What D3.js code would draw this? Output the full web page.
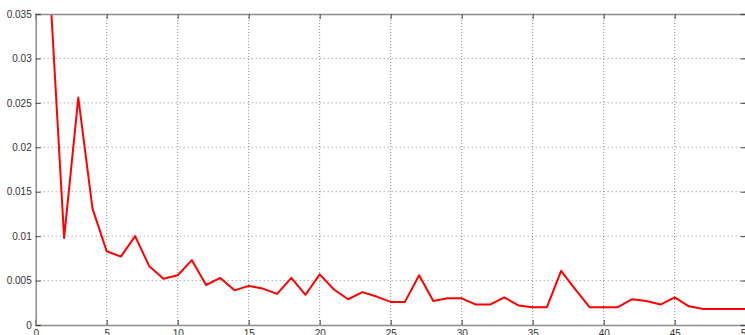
<!DOCTYPE html>
<html>
<head>
<meta charset="utf-8">
<script src="https://cdn.jsdelivr.net/npm/d3@7"></script>
<style>
  html, body { margin: 0; padding: 0; background: #fff; }
  svg { display: block; }
</style>
</head>
<body>
<svg id="chart" width="745" height="335"></svg>
<script>
// Data
const xValues = [1,2,3,4,5,6,7,8,9,10,11,12,13,14,15,16,17,18,19,20,21,22,23,24,25,26,27,28,29,30,31,32,33,34,35,36,37,38,39,40,41,42,43,44,45,46,47,48,49,50];
const yValues = [0.0380,0.0098,0.0256,0.0131,0.0083,0.0077,0.0100,0.0066,0.0052,0.0056,0.0073,0.0045,0.0053,0.0039,0.0044,0.0041,0.0035,0.0053,0.0034,0.0057,0.0040,0.0029,0.0037,0.0032,0.0026,0.0026,0.0056,0.0027,0.0030,0.0030,0.0023,0.0023,0.0031,0.0022,0.0020,0.0020,0.0061,0.0040,0.0020,0.0020,0.0020,0.0029,0.0027,0.0023,0.0031,0.0021,0.0018,0.0018,0.0018,0.0018];
const xTicks = [0,5,10,15,20,25,30,35,40,45,50];
const yTicks = [0,0.005,0.01,0.015,0.02,0.025,0.03,0.035];
const yTickLabels = ["0","0.005","0.01","0.015","0.02","0.025","0.03","0.035"];

const svg = d3.select("#chart");
const pL = 35.7, pR = 745.7, pT = 14, pB = 325;

const x = d3.scaleLinear().domain([0, 50]).range([pL, pR]);
const y = d3.scaleLinear().domain([0, 0.035]).range([pB, pT]);

svg.append("defs").append("clipPath").attr("id", "clip")
  .append("rect").attr("x", pL).attr("y", pT).attr("width", pR - pL).attr("height", pB - pT);

// Grid
const grid = svg.append("g");
grid.selectAll("line.gx").data(xTicks.slice(1, -1)).enter().append("line")
  .attr("x1", d => x(d)).attr("x2", d => x(d)).attr("y1", pT).attr("y2", pB)
  .attr("stroke", "#8a8a8a").attr("stroke-width", 1).attr("stroke-dasharray", "1,2");
grid.selectAll("line.gy").data(yTicks.slice(1, -1)).enter().append("line")
  .attr("x1", pL).attr("x2", pR).attr("y1", d => y(d)).attr("y2", d => y(d))
  .attr("stroke", "#8a8a8a").attr("stroke-width", 1).attr("stroke-dasharray", "1,3");

// Line
const line = d3.line().x((d, i) => x(xValues[i])).y(d => y(d));
svg.append("path").datum(yValues)
  .attr("clip-path", "url(#clip)")
  .attr("d", line)
  .attr("fill", "none").attr("stroke", "#f00").attr("stroke-width", 2).attr("stroke-linejoin", "round");

// Axes (MATLAB style, inward ticks)
const tickLen = 5;
const axisColor = "#8c8c8c";
const bottomAxis = d3.axisBottom(x).tickValues(xTicks).tickSize(-tickLen).tickPadding(8).tickFormat(d3.format("d"));
const topAxis = d3.axisTop(x).tickValues(xTicks).tickSize(-tickLen).tickFormat("");
const leftAxis = d3.axisLeft(y).tickValues(yTicks).tickSize(-tickLen).tickPadding(8).tickFormat((d, i) => yTickLabels[i]);
const rightAxis = d3.axisRight(y).tickValues(yTicks).tickSize(-tickLen).tickFormat("");

function style(g) {
  g.select(".domain").attr("stroke", axisColor).attr("stroke-width", 1.5);
  g.selectAll(".tick line").attr("stroke", "#444").attr("stroke-width", 1);
  g.selectAll(".tick text").attr("fill", "#333").attr("font-family", "Liberation Sans, Arial, sans-serif").attr("font-size", 10);
}
svg.append("g").attr("transform", `translate(0,${pB})`).call(bottomAxis).call(style)
  .selectAll(".tick text").attr("dy", "0.71em").attr("y", 5);
svg.append("g").attr("transform", `translate(0,${pT})`).call(topAxis).call(style);
svg.append("g").attr("transform", `translate(${pL},0)`).call(leftAxis).call(style)
  .selectAll(".tick text").attr("x", -4);
svg.append("g").attr("transform", `translate(${pR},0)`).call(rightAxis).call(style);
svg.selectAll(".domain").attr("stroke-linecap", "square");
</script>
</body>
</html>
